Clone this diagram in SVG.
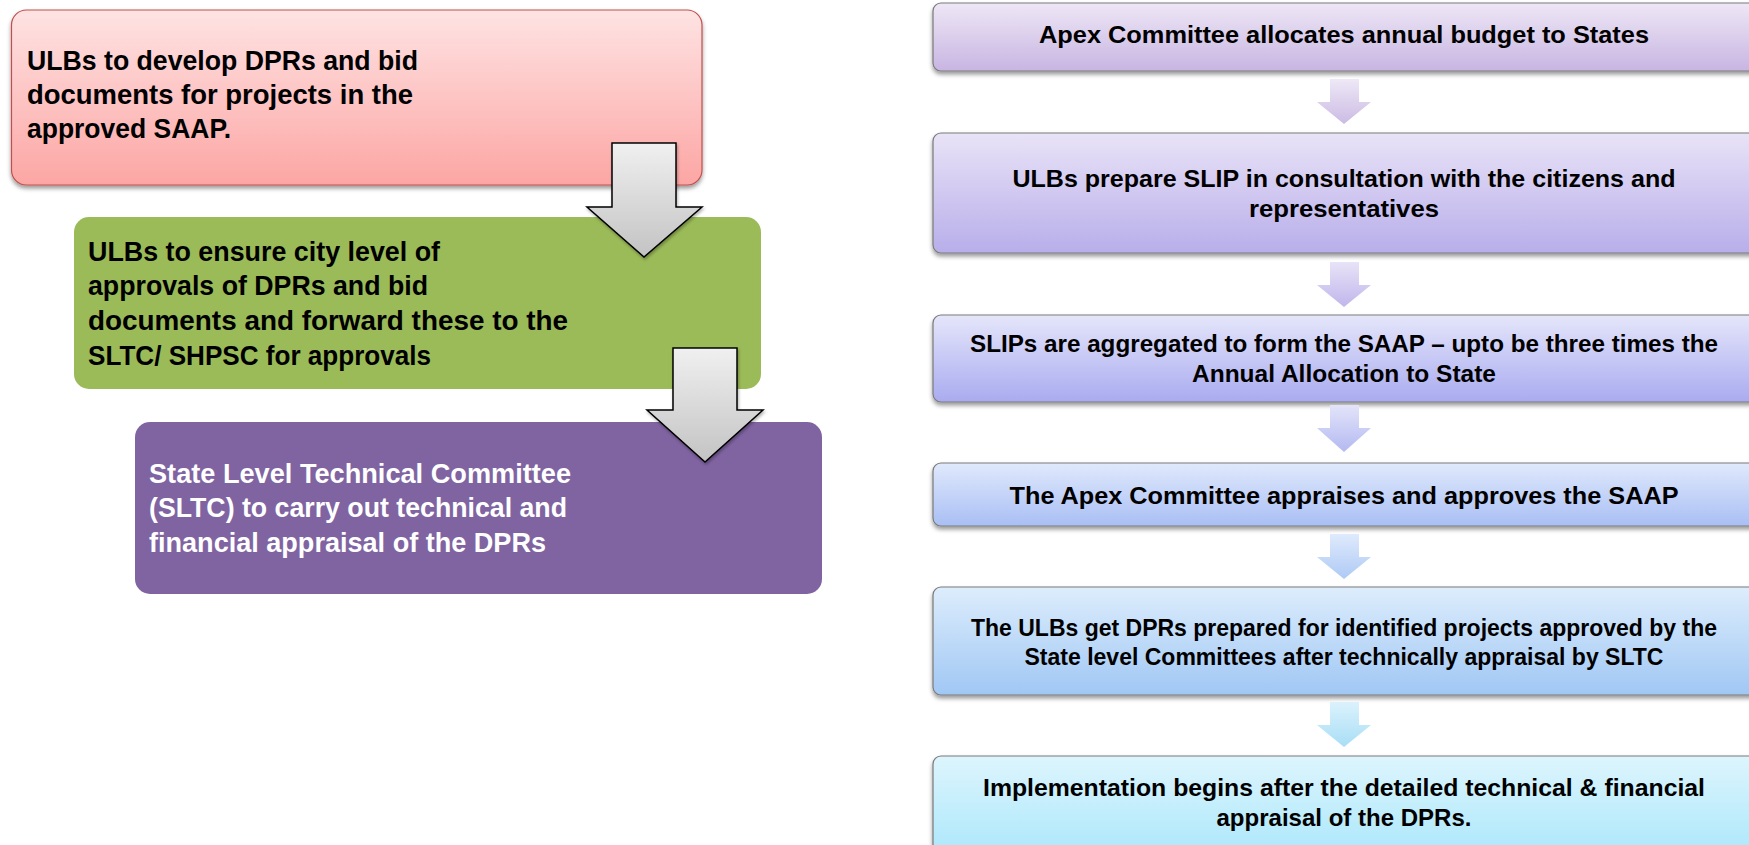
<svg xmlns="http://www.w3.org/2000/svg" width="1749" height="845" viewBox="0 0 1749 845">
  <defs>
    <style>
      .lt { font-family: "Liberation Sans", Arial, sans-serif; font-weight: bold; font-size: 28px; fill: #000; }
      .lw { fill: #fff; }
      .rt { font-family: "Liberation Sans", Arial, sans-serif; font-weight: bold; font-size: 24px; fill: #000; text-anchor: middle; }
      .rbox { stroke: #7a7a7a; stroke-width: 1.2; filter: url(#sh); }
      .garrow { fill: url(#gGray); stroke: #000; stroke-width: 1.5; stroke-linejoin: miter; filter: url(#shs); }
    </style>
    <filter id="sh" x="-5%" y="-20%" width="110%" height="150%">
      <feDropShadow dx="0" dy="3" stdDeviation="2" flood-color="#000" flood-opacity="0.4"/>
    </filter>
    <filter id="shs" x="-10%" y="-10%" width="130%" height="130%">
      <feDropShadow dx="1" dy="2" stdDeviation="1.5" flood-color="#000" flood-opacity="0.3"/>
    </filter>
    <linearGradient id="gPink" x1="0" y1="0" x2="0" y2="1">
      <stop offset="0" stop-color="#fee3e3"/>
      <stop offset="1" stop-color="#fca6a4"/>
    </linearGradient>
    <linearGradient id="gGray" x1="0" y1="0" x2="0" y2="1">
      <stop offset="0" stop-color="#f0f0f0"/>
      <stop offset="1" stop-color="#c3c3c3"/>
    </linearGradient>
    <linearGradient id="gB1" x1="0" y1="0" x2="0" y2="1">
      <stop offset="0" stop-color="#eee7f6"/>
      <stop offset="1" stop-color="#c8b5e2"/>
    </linearGradient>
    <linearGradient id="gB2" x1="0" y1="0" x2="0" y2="1">
      <stop offset="0" stop-color="#e9e3f7"/>
      <stop offset="1" stop-color="#b8aeea"/>
    </linearGradient>
    <linearGradient id="gB3" x1="0" y1="0" x2="0" y2="1">
      <stop offset="0" stop-color="#e5e6fa"/>
      <stop offset="1" stop-color="#a9abf0"/>
    </linearGradient>
    <linearGradient id="gB4" x1="0" y1="0" x2="0" y2="1">
      <stop offset="0" stop-color="#e0e9fc"/>
      <stop offset="1" stop-color="#a9bff4"/>
    </linearGradient>
    <linearGradient id="gB5" x1="0" y1="0" x2="0" y2="1">
      <stop offset="0" stop-color="#ddedfc"/>
      <stop offset="1" stop-color="#a0c7f4"/>
    </linearGradient>
    <linearGradient id="gB6" x1="0" y1="0" x2="0" y2="1">
      <stop offset="0" stop-color="#ddf5fd"/>
      <stop offset="1" stop-color="#a6e6fb"/>
    </linearGradient>
    <linearGradient id="gA1" x1="0" y1="0" x2="0" y2="1">
      <stop offset="0" stop-color="#eee8f6"/>
      <stop offset="1" stop-color="#cbbbe4"/>
    </linearGradient>
    <linearGradient id="gA2" x1="0" y1="0" x2="0" y2="1">
      <stop offset="0" stop-color="#e8e3f7"/>
      <stop offset="1" stop-color="#c0b6ec"/>
    </linearGradient>
    <linearGradient id="gA3" x1="0" y1="0" x2="0" y2="1">
      <stop offset="0" stop-color="#e3e4f9"/>
      <stop offset="1" stop-color="#b4b9f1"/>
    </linearGradient>
    <linearGradient id="gA4" x1="0" y1="0" x2="0" y2="1">
      <stop offset="0" stop-color="#dfeafc"/>
      <stop offset="1" stop-color="#aecaf5"/>
    </linearGradient>
    <linearGradient id="gA5" x1="0" y1="0" x2="0" y2="1">
      <stop offset="0" stop-color="#dbf2fc"/>
      <stop offset="1" stop-color="#a8def6"/>
    </linearGradient>
  </defs>

  <rect x="0" y="0" width="1749" height="845" fill="#fff"/>

  <!-- Left column -->
  <g id="node-develop-dprs">
    <rect x="11.5" y="10" width="690.5" height="175" rx="15" fill="url(#gPink)" stroke="#c0504d" stroke-width="1.2" filter="url(#sh)"/>
    <text class="lt" x="27" y="70" textLength="391" lengthAdjust="spacingAndGlyphs">ULBs to develop DPRs and bid</text>
    <text class="lt" x="27" y="104" textLength="386" lengthAdjust="spacingAndGlyphs">documents for projects in the</text>
    <text class="lt" x="27" y="138" textLength="204" lengthAdjust="spacingAndGlyphs">approved SAAP.</text>
  </g>

  <g id="node-city-approvals">
    <rect x="74" y="217" width="687" height="172" rx="15" fill="#9bbb59"/>
    <text class="lt" x="88" y="261" textLength="352" lengthAdjust="spacingAndGlyphs">ULBs to ensure city level of</text>
    <text class="lt" x="88" y="295" textLength="340" lengthAdjust="spacingAndGlyphs">approvals of DPRs and bid</text>
    <text class="lt" x="88" y="330" textLength="480" lengthAdjust="spacingAndGlyphs">documents and forward these to the</text>
    <text class="lt" x="88" y="365" textLength="343" lengthAdjust="spacingAndGlyphs">SLTC/ SHPSC for approvals</text>
  </g>

  <g id="node-sltc">
    <rect x="135" y="422" width="687" height="172" rx="15" fill="#8064a2"/>
    <text class="lt lw" x="149" y="483" textLength="422" lengthAdjust="spacingAndGlyphs">State Level Technical Committee</text>
    <text class="lt lw" x="149" y="517" textLength="418" lengthAdjust="spacingAndGlyphs">(SLTC) to carry out technical and</text>
    <text class="lt lw" x="149" y="552" textLength="397" lengthAdjust="spacingAndGlyphs">financial appraisal of the DPRs</text>
  </g>

  <!-- Right column -->
  <g id="node-apex-allocates">
    <rect class="rbox" x="933" y="3" width="826" height="68" rx="8" fill="url(#gB1)"/>
    <text class="rt" x="1344" y="43" textLength="610" lengthAdjust="spacingAndGlyphs">Apex Committee allocates annual budget to States</text>
  </g>

  <g id="node-slip">
    <rect class="rbox" x="933" y="133" width="826" height="120" rx="8" fill="url(#gB2)"/>
    <text class="rt" x="1344" y="187" textLength="663" lengthAdjust="spacingAndGlyphs">ULBs prepare SLIP in consultation with the citizens and</text>
    <text class="rt" x="1344" y="217" textLength="190" lengthAdjust="spacingAndGlyphs">representatives</text>
  </g>

  <g id="node-saap">
    <rect class="rbox" x="933" y="315" width="826" height="87" rx="8" fill="url(#gB3)"/>
    <text class="rt" x="1344" y="352" textLength="748" lengthAdjust="spacingAndGlyphs">SLIPs are aggregated to form the SAAP – upto be three times the</text>
    <text class="rt" x="1344" y="382" textLength="304" lengthAdjust="spacingAndGlyphs">Annual Allocation to State</text>
  </g>

  <g id="node-apex-approves">
    <rect class="rbox" x="933" y="463" width="826" height="63" rx="8" fill="url(#gB4)"/>
    <text class="rt" x="1344" y="504" textLength="669" lengthAdjust="spacingAndGlyphs">The Apex Committee appraises and approves the SAAP</text>
  </g>

  <g id="node-dprs-prepared">
    <rect class="rbox" x="933" y="587" width="826" height="108" rx="8" fill="url(#gB5)"/>
    <text class="rt" x="1344" y="636" textLength="746" lengthAdjust="spacingAndGlyphs">The ULBs get DPRs prepared for identified projects approved by the</text>
    <text class="rt" x="1344" y="665" textLength="639" lengthAdjust="spacingAndGlyphs">State level Committees after technically appraisal by SLTC</text>
  </g>

  <g id="node-implementation">
    <rect class="rbox" x="933" y="756" width="826" height="110" rx="8" fill="url(#gB6)"/>
    <text class="rt" x="1344" y="796" textLength="722" lengthAdjust="spacingAndGlyphs">Implementation begins after the detailed technical &amp; financial</text>
    <text class="rt" x="1344" y="826" textLength="255" lengthAdjust="spacingAndGlyphs">appraisal of the DPRs.</text>
  </g>

  <!-- Connectors -->
  <g id="connectors">
    <polygon class="garrow" points="612,143 676,143 676,207 702,207 644,257 587,207 612,207"/>
    <polygon class="garrow" points="673,348 737,348 737,410 763,410 705,462 647,410 673,410"/>
    <polygon points="1330,79 1359,79 1359,102 1371,102 1344,124 1317,102 1330,102" fill="url(#gA1)"/>
    <polygon points="1330,262 1359,262 1359,285 1371,285 1344,307 1317,285 1330,285" fill="url(#gA2)"/>
    <polygon points="1330,405 1359,405 1359,428 1371,428 1344,452 1317,428 1330,428" fill="url(#gA3)"/>
    <polygon points="1330,534 1359,534 1359,557 1371,557 1344,579 1317,557 1330,557" fill="url(#gA4)"/>
    <polygon points="1330,702 1359,702 1359,725 1371,725 1344,747 1317,725 1330,725" fill="url(#gA5)"/>
  </g>
</svg>
